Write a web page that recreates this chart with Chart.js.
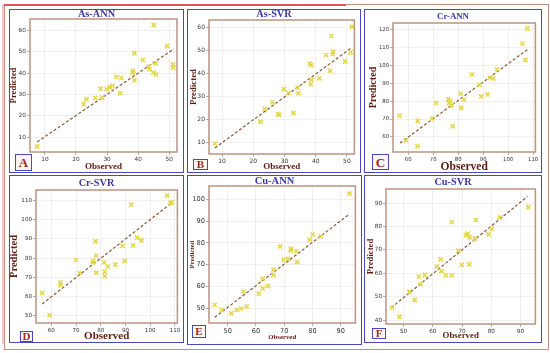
<!DOCTYPE html>
<html><head><meta charset="utf-8">
<script src="https://cdn.jsdelivr.net/npm/chart.js@4.4.1/dist/chart.umd.min.js"></script>
<style>
html,body{margin:0;padding:0;background:#fff;}
#root{position:relative;width:550px;height:353px;overflow:hidden;background:#fff;}
.frame{position:absolute;box-sizing:border-box;}
.panel{position:absolute;box-sizing:border-box;border:1.5px solid #4a48c0;background:#fff;}
canvas{position:absolute;}
.ttl{position:absolute;font-family:"Liberation Serif",serif;font-weight:bold;color:#3b37a3;white-space:nowrap;transform:translate(-50%,-50%);line-height:1;}
.lbl{position:absolute;box-sizing:border-box;border:1.5px solid #4a48c0;background:#fdf4f6;font-family:"Liberation Serif",serif;font-weight:bold;color:#9a2c18;display:flex;align-items:center;justify-content:center;line-height:1;}
</style></head><body><div id="root"></div>
<script>
// ---------- DATA ----------
const panelNames = ["As-ANN","As-SVR","Cr-ANN","Cr-SVR","Cu-ANN","Cu-SVR"];
const panelLetters = ["A","B","C","D","E","F"];
const xAxisTitle = "Observed";
const yAxisTitle = "Predicted";

const asAnnObs  = [7.5,22.5,23.4,26.2,27.9,28.4,29.9,30.9,31.7,33.0,34.2,34.6,38.2,38.4,38.8,38.8,41.5,43.4,43.6,45.0,44.9,45.6,45.8,49.3,51.2,51.3];
const asAnnPred = [5.6,25.5,27.8,28.4,32.7,28.6,32.5,33.4,34.1,38.3,30.6,37.7,40.3,41.1,49.4,36.7,46.3,43.1,41.9,62.7,40.3,44.7,39.5,52.8,44.2,42.7];
const asAnnFitX = [7.5,51.5];
const asAnnFitY = [7.7,51.5];

const asSvrObs  = [7.7,22.3,23.7,26.1,27.9,28.3,29.8,31.3,32.9,34.2,34.5,38.1,38.6,38.4,38.7,41.2,43.3,44.6,45.0,45.4,45.6,49.4,51.2,51.6];
const asSvrPred = [9.7,19.2,24.7,27.6,22.5,22.2,33.3,31.7,23.0,34.0,31.5,44.4,43.6,35.4,37.4,38.0,48.2,41.3,56.4,48.5,49.6,45.3,49.2,60.4];
const asSvrFitX = [7.7,51.6];
const asSvrFitY = [7.8,51.4];

const crAnnObs  = [56.5,59.1,63.7,63.8,69.5,71.2,76.1,76.3,76.8,77.4,77.8,80.9,81.2,82.3,85.5,88.5,89.2,91.7,92.8,94.1,95.6,105.7,106.9,107.7];
const crAnnPred = [71.9,58.1,54.9,68.9,70.2,78.9,81.1,78.9,80.0,77.5,66.0,84.2,76.3,80.9,95.0,89.1,82.7,83.8,93.1,92.6,97.8,112.2,103.0,120.6];
const crAnnFitX = [56.7,107.7];
const crAnnFitY = [56.6,108.8];

const crSvrObs  = [56.3,59.3,63.7,63.7,70.0,71.5,76.8,76.9,77.9,78.1,78.2,81.3,81.6,81.6,82.9,85.9,88.8,89.7,92.3,93.1,94.7,96.5,106.9,108.2,108.7];
const crSvrPred = [61.8,50.3,67.3,65.9,79.1,72.2,78.5,77.8,88.8,81.2,72.4,77.8,72.9,70.5,75.7,76.7,86.4,78.5,107.9,86.6,90.6,89.2,112.6,108.6,109.1];
const crSvrFitX = [56.3,108.7];
const crSvrFitY = [56.1,108.8];

const cuAnnObs  = [45.4,47.9,51.3,53.2,54.8,55.6,56.7,61.0,62.4,62.4,64.2,66.2,66.2,68.6,69.8,71.4,72.4,72.4,74.3,74.6,79.0,80.1,83.0,93.1];
const cuAnnPred = [51.5,49.2,47.7,49.2,49.8,57.6,50.8,56.7,63.6,59.1,60.2,65.2,67.7,78.3,72.3,72.7,77.3,76.5,76.1,71.2,81.4,83.8,83.0,102.6];
const cuAnnFitX = [45.4,93.1];
const cuAnnFitY = [45.8,93.2];

const cuSvrObs  = [46.1,48.6,52.0,53.8,55.2,55.8,57.3,61.4,62.7,62.95,64.5,66.5,66.5,68.75,69.9,71.4,72.0,72.5,72.7,74.4,74.7,79.1,80.2,82.95,92.7];
const cuSvrPred = [45.3,41.4,52.1,48.6,58.6,55.3,59.3,62.9,66.0,61.0,59.1,81.9,59.1,69.7,63.6,76.3,77.0,63.9,75.3,74.9,82.9,76.7,79.1,83.9,88.3];
const cuSvrFitX = [45.8,92.4];
const cuSvrFitY = [45.3,92.9];

const xTicksAs = [10,20,30,40,50];
const yTicksAs = [10,20,30,40,50,60];
const xTicksCr = [60,70,80,90,100,110];
const yTicksCrAnn = [60,70,80,90,100,110,120];
const yTicksCrSvr = [50,60,70,80,90,100,110];
const xTicksCu = [50,60,70,80,90];
const yTicksCuAnn = [50,60,70,80,90,100];
const yTicksCuSvr = [40,50,60,70,80,90];

const seriesObs  = [asAnnObs, asSvrObs, crAnnObs, crSvrObs, cuAnnObs, cuSvrObs];
const seriesPred = [asAnnPred, asSvrPred, crAnnPred, crSvrPred, cuAnnPred, cuSvrPred];
const fitXs = [asAnnFitX, asSvrFitX, crAnnFitX, crSvrFitX, cuAnnFitX, cuSvrFitX];
const fitYs = [asAnnFitY, asSvrFitY, crAnnFitY, crSvrFitY, cuAnnFitY, cuSvrFitY];
const xTickSets = [xTicksAs, xTicksAs, xTicksCr, xTicksCr, xTicksCu, xTicksCu];
const yTickSets = [yTicksAs, yTicksAs, yTicksCrAnn, yTicksCrSvr, yTicksCuAnn, yTicksCuSvr];
const xRanges = [[5.2,52.5],[5.8,52.4],[53.9,110.9],[53.8,111],[43.4,95.2],[44,95.1]];
const yRanges = [[3,65.5],[5.2,63.3],[51.6,123.7],[46.2,115.5],[43.2,106.1],[38.3,96.1]];

// ---------- LAYOUT ----------
const layout = [
  {blue:[9,9,184,173],   plot:[30,19,177,152],  tY:14, tFs:10.3, yX:14,  xY:167, yFs:8.8, xFs:9,   tick:5.8, box:[15,154,17,17], bFs:13},
  {blue:[187,9,361,173], plot:[209,20,357,154], tY:14, tFs:10.3, yX:194, xY:167, yFs:8.8, xFs:9,   tick:6,   box:[193,159,15,11], bFs:11},
  {blue:[364,9,542,173], plot:[393,23,539,152], tY:16, tFs:8.8,  yX:373, xY:167, yFs:10.2,xFs:11.5,tick:5.3, box:[372,154,17,16], bFs:13},
  {blue:[9,175,184,343], plot:[36,190,182,323], tY:183,tFs:10.3, yX:14,  xY:336, yFs:10.5,xFs:11,  tick:5.6, box:[20,331,13,11], bFs:11},
  {blue:[187,175,362,345],plot:[209,186,358,323],tY:181,tFs:10.5,yX:192, xY:337, yFs:6.8, xFs:6.8, tick:6.6, box:[192,325,14,13], bFs:11},
  {blue:[364,175,542,343],plot:[386,189,536,324],tY:182,tFs:10.3,yX:371, xY:336, yFs:8.7, xFs:8.8, tick:5.7, box:[372,328,14,11], bFs:11}
];

const root = document.getElementById('root');
function addDiv(cls, l, t, w, h, style) {
  const d = document.createElement('div');
  d.className = cls;
  d.style.left = l + 'px'; d.style.top = t + 'px';
  if (w != null) d.style.width = w + 'px';
  if (h != null) d.style.height = h + 'px';
  if (style) Object.assign(d.style, style);
  root.appendChild(d);
  return d;
}
// outer frames
addDiv('frame', 4, 4, 545, 346, {border:'1.5px solid #bb9080'});
addDiv('frame', 4, 4, 342, 2, {background:'#e8505a'});
addDiv('frame', 2, 4, 1.5, 340, {background:'#f2c6d4'});

const frameBorder = {
  id: 'frameBorder',
  afterDraw(chart) {
    const {ctx, chartArea: a} = chart;
    ctx.save();
    ctx.strokeStyle = '#bc9482';
    ctx.lineWidth = 1.5;
    ctx.strokeRect(a.left, a.top, a.right - a.left, a.bottom - a.top);
    ctx.restore();
  }
};

layout.forEach((L, i) => {
  const [bl, bt, br, bb] = L.blue;
  addDiv('panel', bl, bt, br - bl, bb - bt);
  const cl = bl + 1, ct = bt + 1, cw = br - bl - 2, ch = bb - bt - 2;
  const cv = document.createElement('canvas');
  cv.width = cw; cv.height = ch;
  cv.style.left = cl + 'px'; cv.style.top = ct + 'px';
  cv.style.width = cw + 'px'; cv.style.height = ch + 'px';
  root.appendChild(cv);
  const [pl, pt, pr, pb] = L.plot;
  const yW = pl - cl, xH = (ct + ch) - pb;
  const padTop = pt - ct, padRight = (cl + cw) - pr;
  const yPad = L.yX - cl - L.yFs / 2;
  const xPad = (ct + ch) - L.xY - L.xFs / 2;
  const xt = xTickSets[i], yt = yTickSets[i];
  const pts = seriesObs[i].map((x, k) => ({x, y: seriesPred[i][k]}));
  const fit = fitXs[i].map((x, k) => ({x, y: fitYs[i][k]}));
  new Chart(cv, {
    type: 'scatter',
    data: {
      datasets: [
        {data: fit, type: 'line', showLine: true, borderColor: '#8a5a3a', borderWidth: 1.2,
         borderDash: [3, 2], pointRadius: 0, fill: false, order: 2},
        {data: pts, pointStyle: 'crossRot', pointRadius: 3, borderWidth: 1.6,
         borderColor: 'rgba(226,214,70,0.95)', backgroundColor: 'rgba(240,232,120,0.5)', order: 1}
      ]
    },
    options: {
      responsive: false, animation: false, devicePixelRatio: 1,
      layout: {padding: {top: padTop, right: padRight, left: 0, bottom: 0}},
      plugins: {legend: {display: false}, tooltip: {enabled: false}, title: {display: false}},
      scales: {
        x: {
          type: 'linear', min: xRanges[i][0], max: xRanges[i][1],
          afterBuildTicks: s => { s.ticks = xt.map(v => ({value: v})); },
          afterFit: s => { s.height = xH; },
          grid: {color: '#ebebeb', lineWidth: 0.8, tickLength: 3, tickColor: '#999'},
          border: {display: false},
          ticks: {font: {family: 'DejaVu Sans', size: L.tick}, color: '#333', padding: 1, maxRotation: 0, autoSkip: false},
          title: {display: true, text: xAxisTitle, color: '#5c1e10',
                  font: {family: 'Liberation Serif', weight: 'bold', size: L.xFs, lineHeight: 1},
                  padding: {top: 0, bottom: xPad}}
        },
        y: {
          type: 'linear', min: yRanges[i][0], max: yRanges[i][1],
          afterBuildTicks: s => { s.ticks = yt.map(v => ({value: v})); },
          afterFit: s => { s.width = yW; },
          grid: {color: '#ebebeb', lineWidth: 0.8, tickLength: 3, tickColor: '#999'},
          border: {display: false},
          ticks: {font: {family: 'DejaVu Sans', size: L.tick}, color: '#333', padding: 1, autoSkip: false},
          title: {display: true, text: yAxisTitle, color: '#5c1e10',
                  font: {family: 'Liberation Serif', weight: 'bold', size: L.yFs, lineHeight: 1},
                  padding: {top: yPad, bottom: 0}}
        }
      }
    },
    plugins: [frameBorder]
  });
  const t = addDiv('ttl', (bl + br) / 2, L.tY, null, null, {fontSize: L.tFs + 'px'});
  t.textContent = panelNames[i];
  const [xl, xtp, bw, bh] = L.box;
  const b = addDiv('lbl', xl, xtp, bw, bh, {fontSize: L.bFs + 'px'});
  b.textContent = panelLetters[i];
});
</script></body></html>
